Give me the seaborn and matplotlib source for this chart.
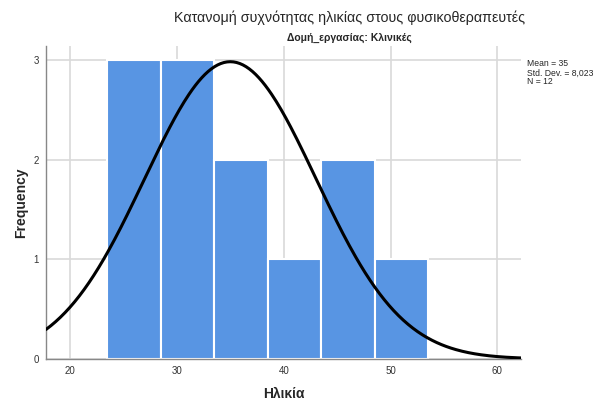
import numpy as np
import pandas as pd
import seaborn as sns
import matplotlib.pyplot as plt

# Binned ages (bin width 5)
bin_edges = [23.5, 28.5, 33.5, 38.5, 43.5, 48.5, 53.5]
counts = [3, 3, 2, 1, 2, 1]
mean_age = 35
std_age = 8.023
n_total = 12

x_ticks = [20, 30, 40, 50, 60]
y_ticks = [0, 1, 2, 3]

centers = [(a + b) / 2 for a, b in zip(bin_edges[:-1], bin_edges[1:])]
df = pd.DataFrame({'age': centers, 'count': counts})

sns.set_style('white')
plt.rcParams['font.family'] = ['Liberation Sans', 'DejaVu Sans']

fig = plt.figure(figsize=(5.98, 4.01), dpi=100)
ax = fig.add_axes([0.077, 0.105, 0.794, 0.78])

ax.grid(True, color='#d9d9d9', linewidth=1.2, zorder=0)
ax.set_axisbelow(True)

sns.histplot(data=df, x='age', weights='count', bins=bin_edges, ax=ax,
             color='#5895e3', alpha=1, edgecolor='white', linewidth=1.5,
             zorder=2)

# normal curve scaled to counts
xs = np.linspace(17.75, 62.2, 300)
width = bin_edges[1] - bin_edges[0]
ys = n_total * width / (std_age * np.sqrt(2 * np.pi)) * np.exp(-0.5 * ((xs - mean_age) / std_age) ** 2)
sns.lineplot(x=xs, y=ys, ax=ax, color='black', linewidth=2.2, zorder=3)

ax.set_xlim(17.75, 62.2)
ax.set_ylim(0, 3.14)
ax.set_xticks(x_ticks)
ax.set_yticks(y_ticks)
ax.tick_params(axis='both', labelsize=7, colors='#333333', length=0, pad=5)

for s in ['top', 'right']:
    ax.spines[s].set_visible(False)
for s in ['left', 'bottom']:
    ax.spines[s].set_color('#888888')
    ax.spines[s].set_linewidth(1.0)

ax.set_xlabel('Ηλικία', fontsize=10, fontweight='bold', labelpad=8)
ax.set_ylabel('Frequency', fontsize=10, fontweight='bold', labelpad=4)

fig.text(0.584, 0.955, 'Κατανομή συχνότητας ηλικίας στους φυσικοθεραπευτές',
         ha='center', va='center', fontsize=10.3)
fig.text(0.584, 0.905, 'Δομή_εργασίας: Κλινικές', ha='center', va='center',
         fontsize=7.5, fontweight='bold')

fig.text(0.882, 0.818, 'Mean = 35\nStd. Dev. = 8,023\nN = 12',
         ha='left', va='center', fontsize=6.2, linespacing=1.0)

fig.savefig('out.png', dpi=100)
